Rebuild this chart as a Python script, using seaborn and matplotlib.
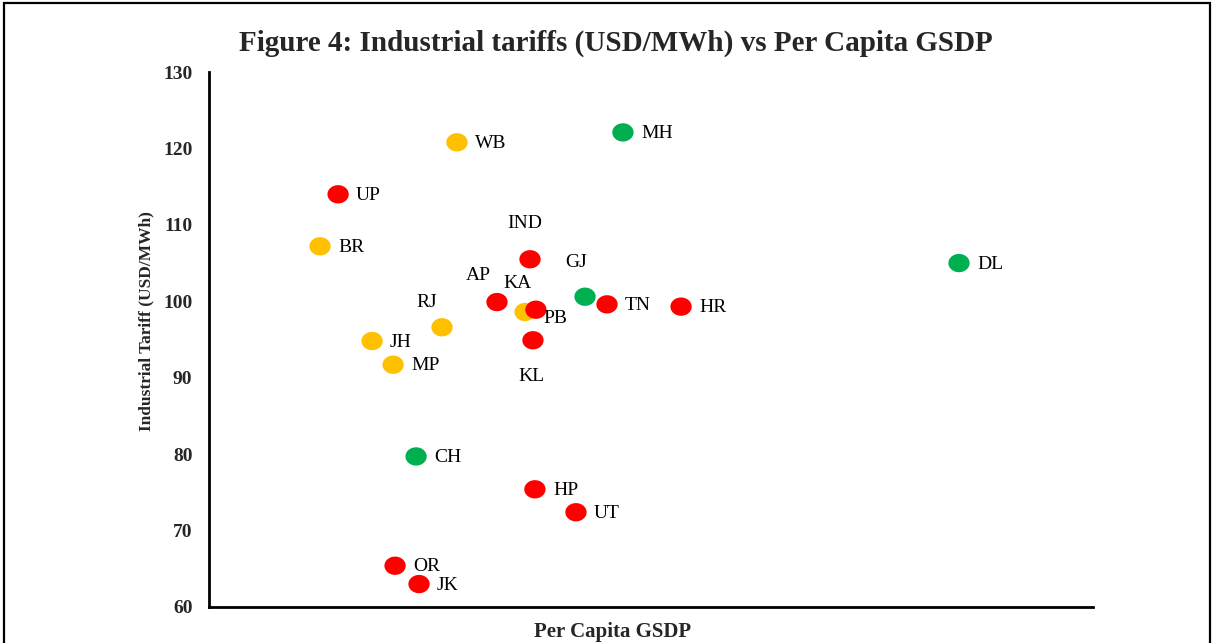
import matplotlib
matplotlib.use("Agg")
import matplotlib.pyplot as plt
import seaborn as sns
import pandas as pd
import numpy as np
from matplotlib.patches import Rectangle
from matplotlib.path import Path

# State codes, per capita GSDP (arbitrary linear scale, axis unlabeled) and industrial tariff
states = ["WB", "MH", "UP", "BR", "IND", "DL", "GJ", "AP", "TN", "HR", "KA",
          "PB", "RJ", "JH", "KL", "MP", "CH", "HP", "UT", "OR", "JK"]
gsdp = [126.2, 210.7, 65.7, 56.5, 163.4, 381.8, 191.4, 146.6, 202.6, 240.3, 160.9,
        166.4, 118.6, 83.0, 164.9, 93.7, 105.4, 165.9, 186.8, 94.7, 106.9]
tariff = [120.8, 122.1, 114.0, 107.2, 105.5, 105.0, 100.6, 99.9, 99.6, 99.3, 98.6,
          98.9, 96.6, 94.8, 94.9, 91.7, 79.7, 75.4, 72.4, 65.4, 63.0]
group = ["amber", "green", "red", "amber", "red", "green", "green", "red", "red", "red", "amber",
         "red", "amber", "amber", "red", "amber", "green", "red", "red", "red", "red"]

palette = {"red": "#FF0000", "amber": "#FFC000", "green": "#00B050"}

# label offsets in pixels (dx, dy), default sits to the right of the dot
offsets = {"IND": (-5, 36, "center"), "GJ": (-9, 34, "center"), "AP": (-19, 27, "center"),
           "KA": (-8, 28, "center"), "PB": (19, -9, "center"), "RJ": (-15, 25, "center"),
           "KL": (-2, -36, "center")}

df = pd.DataFrame({"state": states, "gsdp": gsdp, "tariff": tariff, "group": group})

# slightly flattened circular marker
t = np.linspace(0, 2 * np.pi, 60)
ellipse = Path(np.column_stack([np.cos(t), 0.86 * np.sin(t)]), closed=True)

sns.set_style("white")
plt.rcParams["font.family"] = ["Liberation Serif", "DejaVu Serif"]

fig = plt.figure(figsize=(12.14, 6.43), dpi=100)
ax = fig.add_axes([0.1722, 0.056, 0.7281, 0.832])

sns.scatterplot(data=df, x="gsdp", y="tariff", hue="group", palette=palette,
                marker=ellipse, s=235, edgecolor="none", legend=False, ax=ax, zorder=3)

for s, x, y in zip(states, gsdp, tariff):
    dx, dy, ha = offsets.get(s, (18, -1, "left"))
    ax.annotate(s, (x, y), xytext=(dx, dy), textcoords="offset pixels",
                ha=ha, va="center", fontsize=14, color="black")

ax.set_xlim(0, 450)
ax.set_ylim(60, 130)
ax.set_yticks(range(60, 131, 10))
ax.set_xticks([])
ax.tick_params(axis="y", length=0, pad=12, labelsize=14)
for lab in ax.get_yticklabels():
    lab.set_fontweight("bold")

for side in ["top", "right"]:
    ax.spines[side].set_visible(False)
for side in ["left", "bottom"]:
    ax.spines[side].set_color("black")
    ax.spines[side].set_linewidth(2)

ax.set_ylabel("Industrial Tariff (USD/MWh)", fontsize=12.5, fontweight="bold")
ax.yaxis.set_label_coords(-0.062, 0.535)
ax.set_xlabel("Per Capita GSDP", fontsize=15, fontweight="bold")
ax.xaxis.set_label_coords(0.456, -0.028)

fig.text(0.507, 0.933, "Figure 4: Industrial tariffs (USD/MWh) vs Per Capita GSDP",
         ha="center", va="center", fontsize=21, fontweight="bold")

# outer frame around the figure
fig.patches.append(Rectangle((0.003, -0.05), 0.994, 1.045, transform=fig.transFigure,
                             fill=False, edgecolor="black", linewidth=1.6, clip_on=False))

fig.savefig("out.png", dpi=100)
